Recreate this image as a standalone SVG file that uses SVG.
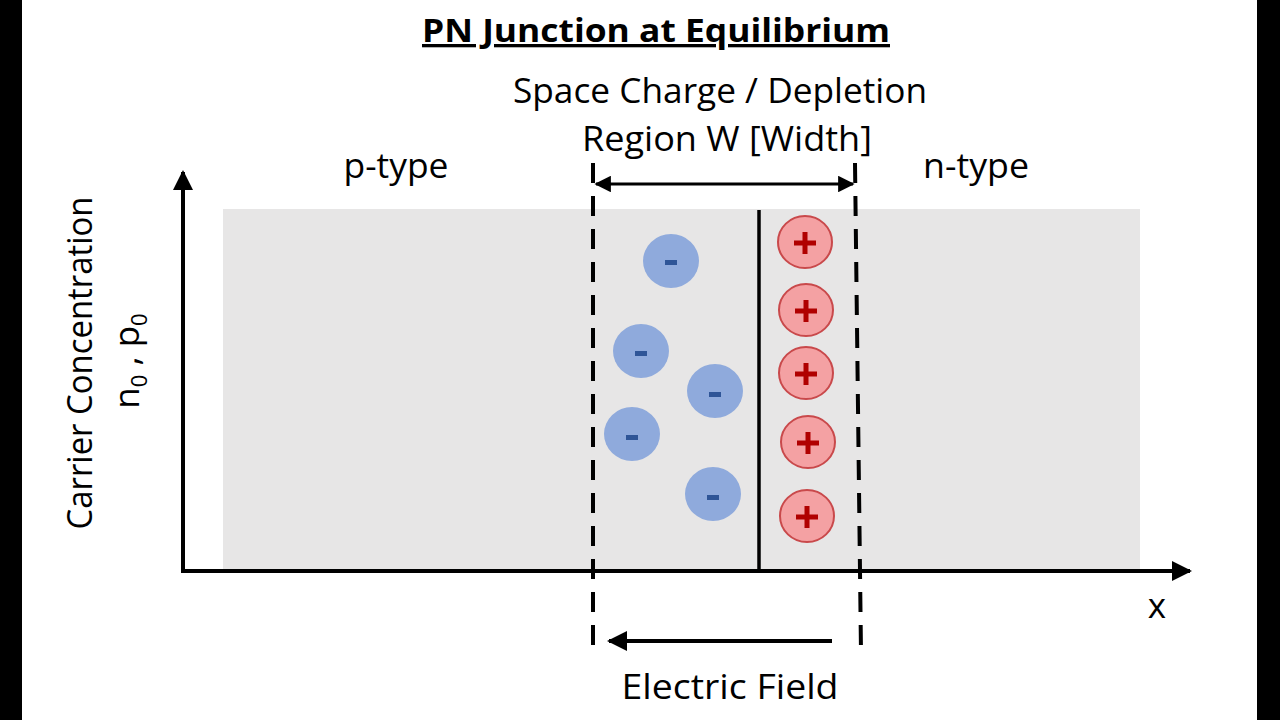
<svg xmlns="http://www.w3.org/2000/svg" width="1280" height="720" viewBox="0 0 1280 720">
<defs>
<style>
text{font-family:"Open Sans","Liberation Sans",sans-serif;fill:#000}
.lbl{font-size:35px}
.neg{fill:#8faadc}
.pos{fill:#f4a1a3;stroke:#c9494b;stroke-width:2}
.ax{stroke:#000;stroke-width:4;fill:none}
.dash{stroke:#000;stroke-width:4;stroke-dasharray:20,13;fill:none}
</style>
<marker id="ah" viewBox="0 0 10 10" refX="9" refY="5" markerWidth="5.5" markerHeight="5.5" orient="auto-start-reverse" markerUnits="strokeWidth">
<path d="M0,0 L10,5 L0,10 z" fill="#000"/>
</marker>
<marker id="ah2" viewBox="0 0 10 10" refX="9" refY="5" markerWidth="5.5" markerHeight="5" orient="auto-start-reverse" markerUnits="strokeWidth">
<path d="M0,0 L10,5 L0,10 z" fill="#000"/>
</marker>
</defs>
<rect width="1280" height="720" fill="#fff"/>
<rect x="0" y="0" width="22" height="720" fill="#000"/>
<rect x="1257" y="0" width="23" height="720" fill="#000"/>

<g id="region">
<rect x="223" y="209" width="917" height="361" fill="#e7e6e6"/>
</g>

<g id="connectors">
<line class="ax" x1="183" y1="573" x2="183" y2="172" marker-end="url(#ah2)"/>
<line class="ax" x1="181" y1="571" x2="1190" y2="571" marker-end="url(#ah2)"/>
<line stroke="#000" stroke-width="3.5" x1="759" y1="210" x2="759" y2="571"/>
<line class="dash" x1="593" y1="163" x2="593" y2="652"/>
<line class="dash" x1="855" y1="163" x2="861" y2="652"/>
<line stroke="#000" stroke-width="3" x1="596" y1="184" x2="853" y2="184" marker-start="url(#ah)" marker-end="url(#ah)"/>
<line stroke="#000" stroke-width="4" x1="832" y1="641" x2="609" y2="641" marker-end="url(#ah2)"/>
</g>

<g id="negatives">
<ellipse class="neg" cx="671" cy="261" rx="28" ry="27"/>
<ellipse class="neg" cx="641" cy="351" rx="28" ry="27"/>
<ellipse class="neg" cx="715" cy="391" rx="28" ry="27"/>
<ellipse class="neg" cx="632" cy="434" rx="28" ry="27"/>
<ellipse class="neg" cx="713" cy="494" rx="28" ry="27"/>
<g fill="#2f5597">
<rect x="665" y="260" width="12" height="5"/>
<rect x="635" y="351" width="12" height="5"/>
<rect x="709" y="392" width="12" height="5"/>
<rect x="626" y="435" width="12" height="5"/>
<rect x="707" y="495" width="12" height="5"/>
</g>
</g>

<g id="positives">
<ellipse class="pos" cx="805" cy="242" rx="27" ry="26"/>
<ellipse class="pos" cx="806" cy="310" rx="27" ry="26"/>
<ellipse class="pos" cx="806" cy="373" rx="27" ry="26"/>
<ellipse class="pos" cx="808" cy="442" rx="27" ry="26"/>
<ellipse class="pos" cx="807" cy="516" rx="27" ry="26"/>
<g stroke="#b00000" stroke-width="5">
<path d="M794,243 h22 M805,232 v22"/>
<path d="M795,311 h22 M806,300 v22"/>
<path d="M795,374 h22 M806,363 v22"/>
<path d="M797,443 h22 M808,432 v22"/>
<path d="M796,517 h22 M807,506 v22"/>
</g>
</g>

<g id="labels">
<text x="656" y="42" text-anchor="middle" font-size="33" font-weight="bold" text-decoration="underline" textLength="468" lengthAdjust="spacingAndGlyphs">PN Junction at Equilibrium</text>
<text class="lbl" x="720" y="103" text-anchor="middle" textLength="414" lengthAdjust="spacingAndGlyphs">Space Charge / Depletion</text>
<text class="lbl" x="727" y="151" text-anchor="middle" textLength="290" lengthAdjust="spacingAndGlyphs">Region W [Width]</text>
<text class="lbl" x="396" y="178" text-anchor="middle" textLength="105" lengthAdjust="spacingAndGlyphs">p-type</text>
<text class="lbl" x="976" y="178" text-anchor="middle" textLength="106" lengthAdjust="spacingAndGlyphs">n-type</text>
<text class="lbl" x="730" y="699" text-anchor="middle" textLength="217" lengthAdjust="spacingAndGlyphs">Electric Field</text>
<text class="lbl" x="1157" y="618" text-anchor="middle">x</text>
<text class="lbl" transform="translate(92,363) rotate(-90)" text-anchor="middle" textLength="333" lengthAdjust="spacingAndGlyphs">Carrier Concentration</text>
<text class="lbl" transform="translate(139,361) rotate(-90)" text-anchor="middle">n<tspan font-size="22" dy="8">0</tspan><tspan dy="-8"> , p</tspan><tspan font-size="22" dy="8">0</tspan></text>
</g>
</svg>
